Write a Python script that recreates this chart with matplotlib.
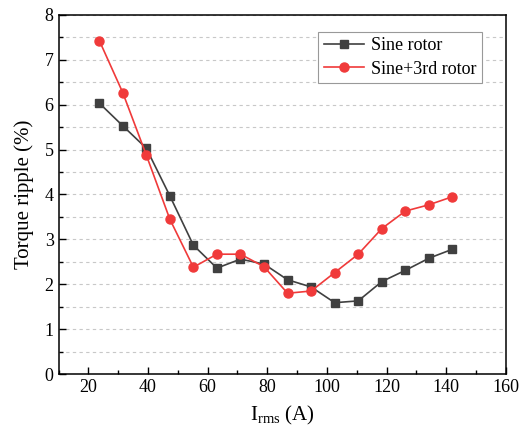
import matplotlib.pyplot as plt
from matplotlib.ticker import MultipleLocator

plt.rcParams["font.family"] = ["Liberation Serif", "DejaVu Serif"]
plt.rcParams["mathtext.fontset"] = "custom"
plt.rcParams["mathtext.rm"] = "Liberation Serif"

# RMS current (A) and torque ripple (%) for both rotor shapes
current = [23.7, 31.5, 39.4, 47.3, 55.2, 63.1, 71.0, 78.9,
           86.8, 94.7, 102.6, 110.5, 118.4, 126.3, 134.2, 142.1]
ripple_sine = [6.03, 5.53, 5.03, 3.97, 2.87, 2.36, 2.56, 2.45,
               2.10, 1.94, 1.59, 1.63, 2.06, 2.31, 2.58, 2.78]
ripple_sine3 = [7.42, 6.27, 4.88, 3.45, 2.38, 2.67, 2.67, 2.39,
                1.80, 1.85, 2.26, 2.67, 3.24, 3.63, 3.77, 3.95]

fig = plt.figure(figsize=(5.28, 4.36), dpi=100)
ax = fig.add_axes([0.111, 0.142, 0.847, 0.824])

ax.plot(current, ripple_sine, color="#404040", lw=1.2, marker="s",
        ms=5.5, label="Sine rotor", zorder=3)
ax.plot(current, ripple_sine3, color="#f03a3a", lw=1.2, marker="o",
        ms=6.5, label="Sine+3rd rotor", zorder=3)

ax.set_xlim(10, 160)
ax.set_ylim(0, 8)
ax.xaxis.set_major_locator(MultipleLocator(20))
ax.xaxis.set_minor_locator(MultipleLocator(10))
ax.yaxis.set_major_locator(MultipleLocator(1))
ax.yaxis.set_minor_locator(MultipleLocator(0.5))
ax.tick_params(which="both", direction="in", labelsize=13, width=1)
ax.tick_params(which="major", length=5)
ax.tick_params(which="minor", length=3)

ax.grid(True, which="both", axis="y", ls=(0, (3, 3)), color="#c8c8c8", lw=0.8)
ax.set_axisbelow(True)
for sp in ax.spines.values():
    sp.set_linewidth(1.1)

ax.set_xlabel(r"I$_{\mathrm{rms}}$ (A)", fontsize=15, labelpad=6)
ax.set_ylabel("Torque ripple (%)", fontsize=15, labelpad=8)

leg = ax.legend(loc="upper right", bbox_to_anchor=(0.946, 0.952), fontsize=13,
                fancybox=False, framealpha=1, edgecolor="#999999",
                handlelength=2.2, borderpad=0.3, labelspacing=0.35,
                handletextpad=0.4, borderaxespad=0)
leg.get_frame().set_linewidth(0.8)

fig.savefig("out.png", dpi=100)
